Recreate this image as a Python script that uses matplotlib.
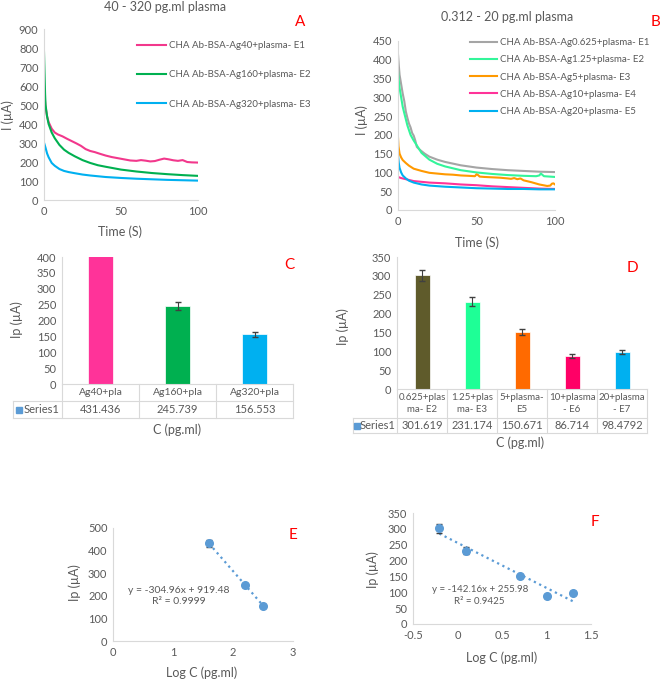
import matplotlib.pyplot as plt
import numpy as np

plt.rcParams['font.family'] = ['Lato', 'DejaVu Sans']

W, H = 661, 681
GRAY = '#595959'
LINE = '#D9D9D9'
BLUE_PT = '#5B9BD5'

# ---- panel A : 40 - 320 pg.ml plasma (current vs time)
a_labels = ['CHA Ab-BSA-Ag40+plasma- E1', 'CHA Ab-BSA-Ag160+plasma- E2',
            'CHA Ab-BSA-Ag320+plasma- E3']
a_colors = ['#F2388C', '#00B050', '#00B0F0']
a_t1 = [0, 0.3, 1, 2, 3, 5, 7, 9, 12, 15, 18, 21, 24, 27, 30, 33, 36, 40, 44, 48,
        52, 56, 60, 63, 66, 69, 72, 75, 78, 81, 84, 87, 90, 93, 96, 100]
a_i1 = [600, 560, 490, 440, 410, 375, 355, 345, 335, 322, 310, 298, 285, 268, 258,
        252, 244, 234, 226, 220, 214, 208, 206, 210, 207, 203, 205, 212, 218, 214,
        209, 206, 210, 200, 198, 197]
a_t2 = [0, 0.3, 0.7, 1, 2, 3, 5, 7, 10, 13, 16, 20, 25, 30, 35, 40, 50, 60, 70, 80, 90, 100]
a_i2 = [780, 680, 560, 500, 440, 400, 355, 325, 290, 265, 248, 230, 210, 195, 183,
        175, 160, 150, 142, 136, 131, 127]
a_t3 = [0, 1, 2, 3, 5, 7, 10, 13, 16, 20, 25, 30, 40, 50, 60, 70, 80, 90, 100]
a_i3 = [302, 275, 245, 225, 195, 180, 163, 153, 147, 141, 134, 129, 121, 116, 112,
        109, 106, 104, 102]

# ---- panel B : 0.312 - 20 pg.ml plasma
b_labels = ['CHA Ab-BSA-Ag0.625+plasma- E1', 'CHA Ab-BSA-Ag1.25+plasma- E2',
            'CHA Ab-BSA-Ag5+plasma- E3', 'CHA Ab-BSA-Ag10+plasma- E4',
            'CHA Ab-BSA-Ag20+plasma- E5']
b_colors = ['#A5A5A5', '#33F59A', '#FF9900', '#FF3399', '#00B0F0']
b_t1 = [0, 0.5, 1, 2, 3, 4, 5, 6, 7, 8, 9, 10, 11, 12, 14, 17, 20, 25, 30, 40, 50,
        60, 70, 80, 90, 100]
b_i1 = [415, 385, 360, 335, 310, 290, 262, 245, 230, 220, 205, 198, 185, 168, 160,
        150, 142, 134, 128, 119, 113, 109, 106, 104, 102, 101]
b_t2 = [0, 0.5, 1, 2, 3, 4, 6, 8, 10, 12, 15, 20, 25, 30, 40, 50, 60, 70, 80, 88,
        90, 91, 93, 100]
b_i2 = [372, 345, 325, 300, 275, 258, 225, 200, 185, 172, 152, 134, 123, 116, 106,
        100, 96, 93, 91, 90, 92, 97, 90, 88]
b_t3 = [0, 0.3, 1, 2, 3, 5, 7, 10, 15, 20, 25, 30, 35, 40, 45, 49, 50, 51, 52, 55,
        60, 65, 70, 72, 74, 76, 78, 80, 85, 90, 95, 97, 98, 99, 100]
b_i3 = [194, 170, 150, 140, 133, 125, 118, 110, 104, 99, 97, 95, 94, 92, 91, 90, 95,
        93, 89, 88, 87, 86, 84, 83, 85, 82, 84, 79, 74, 68, 64, 65, 70, 71, 68]
b_t4 = [0, 2, 5, 10, 15, 20, 30, 40, 50, 60, 70, 80, 90, 100]
b_i4 = [88, 85, 82, 77, 75, 73, 71, 68, 66, 63, 61, 59, 57, 56]
b_t5 = [0, 0.5, 1, 2, 3, 5, 7, 10, 15, 20, 30, 40, 50, 60, 70, 80, 90, 100]
b_i5 = [146, 125, 112, 100, 92, 84, 78, 73, 68, 65, 62, 60, 58, 57, 56, 56, 55, 55]

# ---- panel C / E : peak currents, high range
c_cats = ['Ag40+pla', 'Ag160+pla', 'Ag320+pla']
c_conc = [40, 160, 320]
c_vals = [431.436, 245.739, 156.553]
c_err = [15, 12, 8]
c_colors = ['#FF3399', '#00B050', '#00B0F0']

# ---- panel D / F : peak currents, low range
d_cats = ['0.625+plas\nma- E2', '1.25+plas\nma- E3', '5+plasma-\nE5',
          '10+plasma\n- E6', '20+plasma\n- E7']
d_conc = [0.625, 1.25, 5, 10, 20]
d_vals = [301.619, 231.174, 150.671, 86.714, 98.4792]
d_err = [15, 12, 8, 5, 5]
d_colors = ['#5F5B2B', '#1EFF96', '#FF6A00', '#FF0066', '#00B0F0']

fig = plt.figure(figsize=(W / 100, H / 100), dpi=100)


def box(l, t, r, b):
    return fig.add_axes([l / W, 1 - b / H, (r - l) / W, (b - t) / H])


def ftext(x, y, s, **kw):
    kw.setdefault('color', GRAY)
    kw.setdefault('ha', 'center')
    kw.setdefault('va', 'center')
    fig.text(x / W, 1 - y / H, s, **kw)


def style(ax):
    for s in ['top', 'right']:
        ax.spines[s].set_visible(False)
    for s in ['left', 'bottom']:
        ax.spines[s].set_color(LINE)
    ax.tick_params(length=0, colors=GRAY, labelsize=8, pad=4)


def table(ax, cats, vals, rows, label_left, cat_size=7.5):
    tr = ax.get_xaxis_transform()
    n = len(cats)
    y1, y2 = -rows[0], -rows[0] - rows[1]
    kw = dict(transform=tr, color=LINE, lw=0.8, clip_on=False)
    for x in np.arange(n + 1) - 0.5:
        ax.plot([x, x], [0, y2], **kw)
    ax.plot([label_left, label_left], [y1, y2], **kw)
    ax.plot([-0.5, n - 0.5], [0, 0], **kw)
    ax.plot([label_left, n - 0.5], [y1, y1], **kw)
    ax.plot([label_left, n - 0.5], [y2, y2], **kw)
    for i, (c, v) in enumerate(zip(cats, vals)):
        ax.text(i, y1 / 2, c, transform=tr, ha='center', va='center',
                color=GRAY, fontsize=cat_size, linespacing=1.4)
        ax.text(i, (y1 + y2) / 2, f'{v:g}', transform=tr, ha='center',
                va='center', color=GRAY, fontsize=8)
    ym = (y1 + y2) / 2
    ax.plot([label_left + 0.08], [ym], marker='s', ms=4, color=BLUE_PT,
            transform=tr, clip_on=False)
    ax.text(label_left + 0.14, ym, 'Series1', transform=tr, ha='left',
            va='center', color=GRAY, fontsize=8)


# A
ax = box(44, 29, 198, 200)
for t, i, c, lab in zip([a_t1, a_t2, a_t3], [a_i1, a_i2, a_i3], a_colors, a_labels):
    ax.plot(t, i, color=c, lw=1.5, label=lab)
ax.set(xlim=(0, 100), ylim=(0, 900), xticks=[0, 50, 100], yticks=range(0, 901, 100))
style(ax)
ax.legend(loc='upper left', bbox_to_anchor=(137 / W, 1 - 41 / H),
          bbox_transform=fig.transFigure, frameon=False, fontsize=7,
          labelcolor=GRAY, handlelength=3.0, handletextpad=0.3, labelspacing=2.1,
          borderaxespad=0, borderpad=0)
ftext(165, 7, '40 - 320 pg.ml plasma', fontsize=9)
ftext(300, 22, 'A', color='red', fontsize=11)
ftext(8, 115, 'I (µA)', rotation=90, fontsize=9)
ftext(120, 232, 'Time (S)', fontsize=9)

# B
ax = box(398, 41, 555, 210)
for t, i, c, lab in zip([b_t1, b_t2, b_t3, b_t4, b_t5],
                        [b_i1, b_i2, b_i3, b_i4, b_i5], b_colors, b_labels):
    ax.plot(t, i, color=c, lw=1.5, label=lab)
ax.set(xlim=(0, 100), ylim=(0, 450), xticks=[0, 50, 100], yticks=range(0, 451, 50))
style(ax)
ax.legend(loc='upper left', bbox_to_anchor=(470 / W, 1 - 38 / H),
          bbox_transform=fig.transFigure, frameon=False, fontsize=7,
          labelcolor=GRAY, handlelength=2.8, handletextpad=0.3, labelspacing=0.85,
          borderaxespad=0, borderpad=0)
ftext(507, 17, '0.312 - 20 pg.ml plasma', fontsize=9)
ftext(655, 22, 'B', color='red', fontsize=11)
ftext(362, 120, 'I (µA)', rotation=90, fontsize=9)
ftext(477, 243, 'Time (S)', fontsize=9)

# C
ax = box(62, 257, 293, 384)
xc = np.arange(len(c_cats))
ax.bar(xc, c_vals, width=0.32, color=c_colors, edgecolor='white', lw=0.5)
ax.errorbar(xc, c_vals, yerr=c_err, fmt='none', ecolor='#404040', elinewidth=0.8,
            capsize=2.5)
ax.set(xlim=(-0.5, 2.5), ylim=(0, 400), xticks=[], yticks=range(0, 401, 50))
style(ax)
ax.spines['bottom'].set_visible(False)
table(ax, c_cats, c_vals, (17 / 127, 17 / 127), -0.5 - 49 / 77)
ftext(289, 265, 'C', color='red', fontsize=11)
ftext(17, 320, 'Ip (µA)', rotation=90, fontsize=9)
ftext(177, 430, 'C (pg.ml)', fontsize=9)

# D
ax = box(397, 257, 647, 389)
xd = np.arange(len(d_cats))
ax.bar(xd, d_vals, width=0.3, color=d_colors, edgecolor='white', lw=0.5)
ax.errorbar(xd, d_vals, yerr=d_err, fmt='none', ecolor='#404040', elinewidth=0.8,
            capsize=2.5)
ax.set(xlim=(-0.5, 4.5), ylim=(0, 350), xticks=[], yticks=range(0, 351, 50))
style(ax)
ax.spines['bottom'].set_visible(False)
table(ax, d_cats, d_vals, (29 / 132, 15 / 132), -0.5 - 44 / 50, cat_size=7)
ftext(632, 268, 'D', color='red', fontsize=11)
ftext(343, 327, 'Ip (µA)', rotation=90, fontsize=9)
ftext(520, 443, 'C (pg.ml)', fontsize=9)


def calib(ax, conc, vals, err):
    x = np.log10(conc)
    k, b = np.polyfit(x, vals, 1)
    r2 = np.corrcoef(x, vals)[0, 1] ** 2
    xs = np.array([x.min(), x.max()])
    ax.plot(xs, k * xs + b, ls=':', color=BLUE_PT, lw=1.6)
    ax.errorbar(x, vals, yerr=err, fmt='o', color=BLUE_PT, ms=5.5,
                ecolor='#404040', elinewidth=0.8, capsize=2)
    return k, b, r2


# E
ax = box(113, 528, 293, 641)
k, b, r2 = calib(ax, c_conc, c_vals, [15, 6, 5])
ax.set(xlim=(0, 3), ylim=(0, 500), xticks=[0, 1, 2, 3], yticks=range(0, 501, 100))
style(ax)
ax.text(1.1, 200, f'y = {k:.2f}x + {b:.2f}\nR² = {r2:.4f}', ha='center',
        va='center', color=GRAY, fontsize=7.5, linespacing=1.3)
ftext(293, 535, 'E', color='red', fontsize=11)
ftext(75, 583, 'Ip (µA)', rotation=90, fontsize=9)
ftext(202, 673, 'Log C (pg.ml)', fontsize=9)

# F
ax = box(413, 513, 591, 624)
k, b, r2 = calib(ax, d_conc, d_vals, [15, 12, 5, 4, 4])
ax.set(xlim=(-0.5, 1.5), ylim=(0, 350), xticks=[-0.5, 0, 0.5, 1, 1.5],
       xticklabels=['-0.5', '0', '0.5', '1', '1.5'], yticks=range(0, 351, 50))
style(ax)
ax.text(0.25, 90, f'y = {k:.2f}x + {b:.2f}\nR² = {r2:.4f}', ha='center',
        va='center', color=GRAY, fontsize=7, linespacing=1.3)
ftext(595, 522, 'F', color='red', fontsize=11)
ftext(373, 570, 'Ip (µA)', rotation=90, fontsize=9)
ftext(502, 658, 'Log C (pg.ml)', fontsize=9)

fig.savefig('out.png', dpi=100)
